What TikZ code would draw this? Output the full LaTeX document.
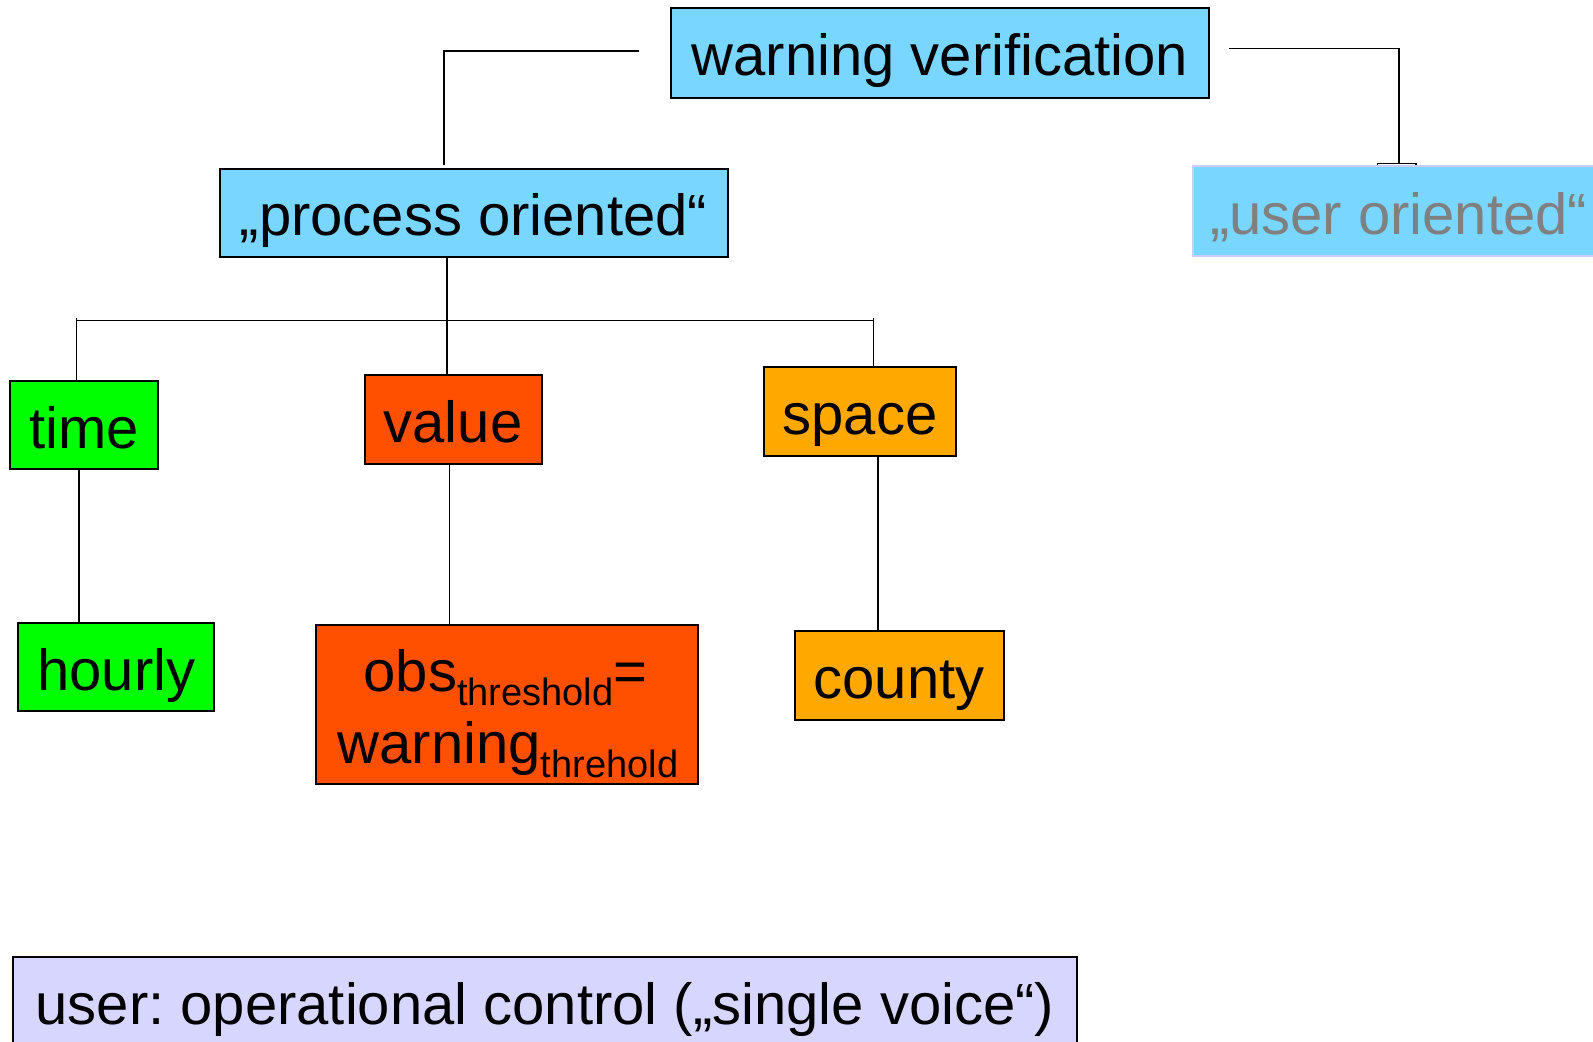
\documentclass[tikz,border=0pt]{standalone}
\usepackage{fontspec}
\setmainfont{Liberation Sans}
\frenchspacing

\definecolor{skyfill}{RGB}{120,214,255}
\definecolor{greenfill}{RGB}{0,255,0}
\definecolor{redfill}{RGB}{255,80,0}
\definecolor{orangefill}{RGB}{255,168,0}
\definecolor{lavfill}{RGB}{214,214,255}
\definecolor{lavline}{RGB}{204,204,255}
\definecolor{greytext}{RGB}{128,128,128}

% lowered, smaller index text
\newcommand\idxtxt[1]{\raisebox{-7pt}{\fontsize{19}{19}\selectfont #1}}

\begin{document}
\begin{tikzpicture}[x=0.5pt,y=-0.5pt,
  bigfont/.style={font=\fontsize{29}{33}\selectfont},
  box/.style={draw=black, line width=1pt, inner sep=0pt, bigfont,
              text height=25pt, text depth=2pt},
  txt/.style={inner sep=0pt, bigfont},
  link/.style={draw=black, line width=0.75pt}]
\useasboundingbox (0,0) rectangle (1593,1042);

% boxes
\node[box, fill=skyfill, minimum width=269pt, minimum height=44.75pt] (wv) at (940,52.8) {warning verification};
\node[box, fill=skyfill, minimum width=254pt, minimum height=44pt] (po) at (473.5,213) {„process oriented“};
\node[box, draw=lavline, fill=skyfill, text=greytext, anchor=north west,
      inner xsep=8.5pt, minimum height=44.75pt] (uo) at (1192,165.5) {\makebox[197pt][l]{„user oriented“}};

\node[box, fill=greenfill, minimum width=73.75pt, minimum height=44pt] (time) at (83.8,425) {time};
\node[box, fill=redfill, minimum width=88.5pt, minimum height=44.5pt] (value) at (453,419.6) {value};
\node[box, fill=orangefill, minimum width=96pt, minimum height=44.5pt] (space) at (860,411.4) {space};

\node[box, fill=greenfill, minimum width=98pt, minimum height=44.2pt] (hourly) at (116.3,667) {hourly};
\node[box, fill=redfill, minimum width=191pt, minimum height=79.5pt] (obs) at (507,704.5) {};
\node[txt, anchor=base] (obsA) at (505.5,691.7) {obs\idxtxt{threshold}=};
\node[txt, anchor=base] (obsB) at (508,763) {warning\idxtxt{threhold}};
\node[box, fill=orangefill, minimum width=104.5pt, minimum height=44.5pt] (county) at (899,675.5) {county};

\node[box, fill=lavfill, minimum width=532pt, minimum height=44.5pt] (user) at (545,1001.5) {user: operational control („single voice“)};

% top connectors
\coordinate (wvL) at (639,51);
\coordinate (poT) at (444,164.7);
\draw[link] (wvL) -| (poT);
\coordinate (wvR) at (1229,48.3);
\coordinate (uoT) at (1399,163.3);
\draw[link] (wvR) -| (uoT);
\coordinate (teeL) at (1377.5,165);
\coordinate (teeR) at (1416,165);
\draw[link] (teeL) |- (uoT) -| (teeR);

% branch bus below "process oriented"
\coordinate (busM) at (447,320.7);
\coordinate (busL) at (76.3,318);
\coordinate (busR) at (873.7,318);
\draw[link] (po.south -| busM) -- (value.north -| busM);
\draw[link] (76.3,320.7) -- (873.7,320.7);
\draw[link] (busL) -- (time.north -| busL);
\draw[link] (busR) -- (space.north -| busR);

% second level links
\coordinate (xt) at (79,0);
\coordinate (xv) at (449.6,0);
\coordinate (xs) at (878,0);
\draw[link] (time.south -| xt) -- (hourly.north -| xt);
\draw[link] (value.south -| xv) -- (obs.north -| xv);
\draw[link] (space.south -| xs) -- (county.north -| xs);
\end{tikzpicture}
\end{document}
